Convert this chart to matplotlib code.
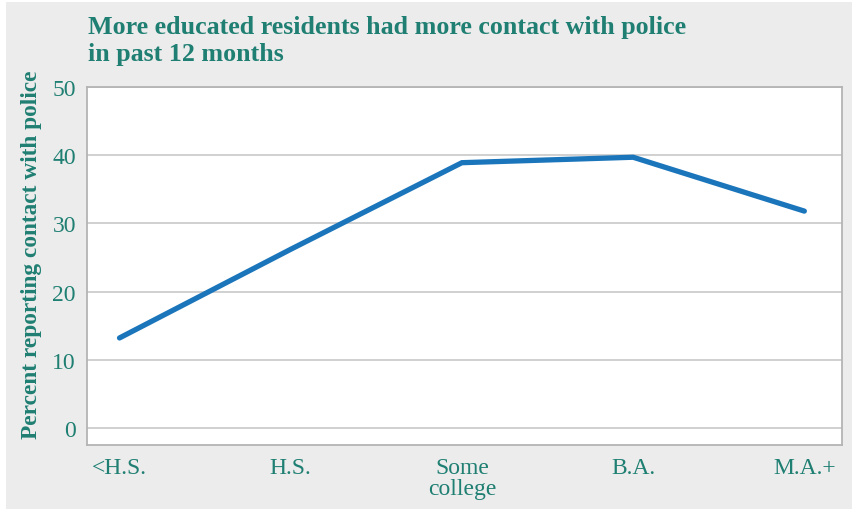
import matplotlib
matplotlib.use("Agg")
import matplotlib.pyplot as plt
from matplotlib.patches import Rectangle

categories = ["<H.S.", "H.S.", "Some\ncollege", "B.A.", "M.A.+"]
percent_contact = [13.2, 26.2, 38.9, 39.7, 31.8]
y_ticks = [0, 10, 20, 30, 40, 50]

title = "More educated residents had more contact with police\nin past 12 months"
y_label = "Percent reporting contact with police"

teal = "#1f7f72"
panel = "#ececec"
line_blue = "#1b75bb"
frame_grey = "#b4b4b4"
grid_grey = "#c4c4c4"

plt.rcParams["font.family"] = ["Liberation Serif", "DejaVu Serif"]

fig = plt.figure(figsize=(8.53, 5.10), dpi=100)
fig.patch.set_facecolor("white")
fig.patches.append(Rectangle((6 / 853, 0.0), 1.0, 1 - 3 / 510,
                             transform=fig.transFigure, facecolor=panel,
                             edgecolor="none", zorder=-10))

ax = fig.add_axes([87 / 853, 1 - 446 / 510, (842 - 87) / 853, (446 - 88) / 510])
ax.set_facecolor("white")

x = list(range(len(categories)))
ax.plot(x, percent_contact, color=line_blue, linewidth=3.8,
        solid_capstyle="round", solid_joinstyle="miter", zorder=3)

ax.set_xlim(-0.19, 4.22)
ax.set_ylim(-2.5, 50)
ax.set_yticks(y_ticks)
ax.set_xticks(x)
ax.set_xticklabels(categories, linespacing=0.95)
ax.grid(axis="y", color=grid_grey, linewidth=1.1, zorder=1)
ax.tick_params(axis="both", length=0, labelsize=17, labelcolor=teal)
ax.tick_params(axis="y", pad=8)
ax.tick_params(axis="x", pad=9)
for sp in ax.spines.values():
    sp.set_color(frame_grey)
    sp.set_linewidth(1.3)

fig.text(32 / 853, 1 - 255 / 510, y_label, fontsize=16.8, fontweight="bold",
         color=teal, rotation=90, ha="center", va="center")

fig.text(88 / 853, 1 - 16 / 510, title, fontsize=18.7, fontweight="bold",
         color=teal, ha="left", va="top", linespacing=1.25)

fig.savefig("out.png", dpi=100, facecolor=fig.get_facecolor())
